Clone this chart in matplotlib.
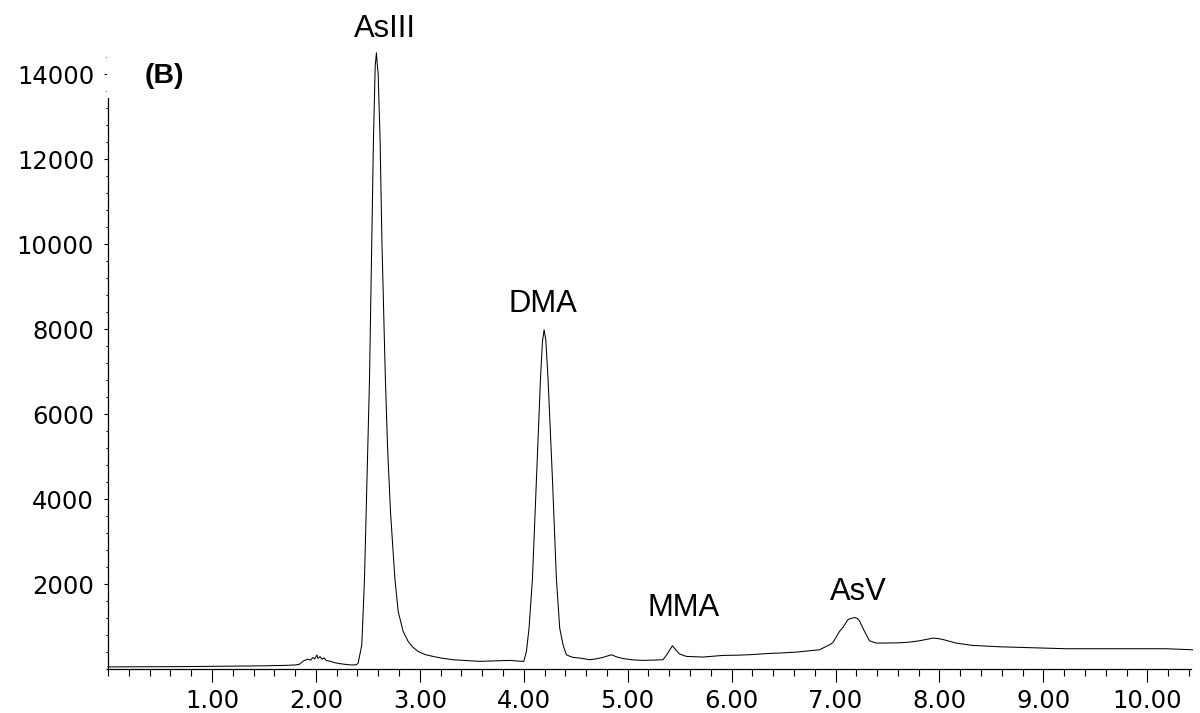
import matplotlib
matplotlib.use("Agg")
import matplotlib.pyplot as plt
from matplotlib.ticker import MultipleLocator, FixedLocator, FuncFormatter
from matplotlib.patches import Rectangle

plt.rcParams['font.family'] = ['Liberation Sans', 'DejaVu Sans']

# retention time (min) and detector signal (counts)
time = [0.00, 0.30, 0.60, 0.90, 1.20, 1.50, 1.70, 1.80, 1.84, 1.88, 1.92, 1.95,
        1.97, 1.99, 2.01, 2.02, 2.04, 2.06, 2.08, 2.10, 2.14, 2.18, 2.22, 2.28,
        2.34, 2.39, 2.407, 2.42, 2.442, 2.468, 2.484, 2.50, 2.516, 2.538, 2.554,
        2.571, 2.583, 2.59, 2.599, 2.618, 2.635, 2.667, 2.689, 2.718, 2.76,
        2.792, 2.84, 2.888, 2.93, 2.984, 3.05, 3.128, 3.20, 3.32, 3.45, 3.577,
        3.70, 3.80, 3.87, 3.95, 4.00, 4.026, 4.051, 4.084, 4.122, 4.161, 4.18,
        4.196, 4.212, 4.234, 4.276, 4.314, 4.346, 4.378, 4.41, 4.442, 4.474,
        4.538, 4.635, 4.70, 4.763, 4.843, 4.90, 4.955, 5.05, 5.147, 5.25, 5.34,
        5.38, 5.43, 5.47, 5.50, 5.564, 5.724, 5.917, 6.05, 6.173, 6.365, 6.50,
        6.622, 6.75, 6.846, 6.942, 6.974, 7.038, 7.07, 7.118, 7.135, 7.183,
        7.21, 7.23, 7.279, 7.327, 7.391, 7.50, 7.615, 7.70, 7.808, 7.936, 7.98,
        8.032, 8.16, 8.32, 8.577, 8.897, 9.218, 9.538, 9.856, 10.18, 10.435]
signal = [50, 52, 55, 60, 68, 75, 85, 95, 110, 190, 230, 210,
          270, 240, 330, 250, 290, 230, 260, 200, 180, 150, 130, 110,
          95, 100, 141, 300, 570, 2134, 3698, 5260, 6825, 10110, 12450,
          14200, 14500, 14250, 14020, 12450, 10110, 6980, 5260, 3698, 2134,
          1352, 883, 648, 520, 413, 340, 296, 260, 218, 200, 180,
          190, 200, 203, 185, 180, 415, 962, 2134, 4480, 6825, 7700,
          7980, 7750, 6825, 4480, 2134, 962, 570, 336, 300, 274,
          258, 219, 240, 274, 336, 280, 246, 215, 203, 210, 219,
          350, 547, 430, 352, 297, 281, 320, 325, 336, 367, 380,
          398, 430, 453, 570, 620, 883, 977, 1157, 1180, 1212,
          1190, 1133, 883, 664, 610, 612, 617, 630, 664, 727, 720,
          695, 610, 555, 523, 500, 477, 477, 477, 477, 453]

peak_names = ["AsIII", "DMA", "MMA", "AsV"]
peak_label_x = [2.66, 4.18, 5.54, 7.22]
peak_label_y = [14870, 8390, 1250, 1625]

x_major = [1, 2, 3, 4, 5, 6, 7, 8, 9, 10]
y_major = [2000, 4000, 6000, 8000, 10000, 12000, 14000]

fig = plt.figure(figsize=(12, 7.13), dpi=100)
ax = fig.add_axes([0.09, 0.0617, 0.9025, 0.8583])

ax.plot(time, signal, color='black', linewidth=0.75, clip_on=False, zorder=5)

ax.set_xlim(0, 10.42)
ax.set_ylim(0, 14400)

for s in ['top', 'right']:
    ax.spines[s].set_visible(False)
for s in ['left', 'bottom']:
    ax.spines[s].set_linewidth(0.9)

ax.xaxis.set_major_locator(FixedLocator(x_major))
ax.xaxis.set_minor_locator(MultipleLocator(0.2))
ax.yaxis.set_major_locator(FixedLocator(y_major))
ax.yaxis.set_minor_locator(MultipleLocator(400))
ax.xaxis.set_major_formatter(FuncFormatter(lambda v, p: f"{v:.2f}"))
ax.yaxis.set_major_formatter(FuncFormatter(lambda v, p: f"{int(v)}"))

ax.tick_params(axis='x', which='major', direction='out', length=9.5, width=0.8,
               pad=5, labelsize=17.5)
ax.tick_params(axis='x', which='minor', direction='out', length=5, width=0.8)
ax.tick_params(axis='y', which='major', direction='out', length=3, width=0.8,
               pad=7, labelsize=17.5)
ax.tick_params(axis='y', which='minor', direction='out', length=1.6, width=0.8)
for lab in ax.get_xticklabels() + ax.get_yticklabels():
    lab.set_fontfamily(['DejaVu Sans'])

for name, lx, ly in zip(peak_names, peak_label_x, peak_label_y):
    ax.text(lx, ly, name, ha='center', va='baseline', fontsize=22.3,
            clip_on=False)

# white patch that interrupts the axis line next to the panel label
ax.add_patch(Rectangle((-0.0006, 13440), 0.0025, 1100, transform=ax.get_yaxis_transform(),
                       facecolor='white', edgecolor='none', zorder=3, clip_on=False))
ax.text(0.356, 13783, "(B)", ha='left', va='baseline', fontsize=20.5,
        fontweight='bold', zorder=4)

fig.savefig("out.png", dpi=100)
